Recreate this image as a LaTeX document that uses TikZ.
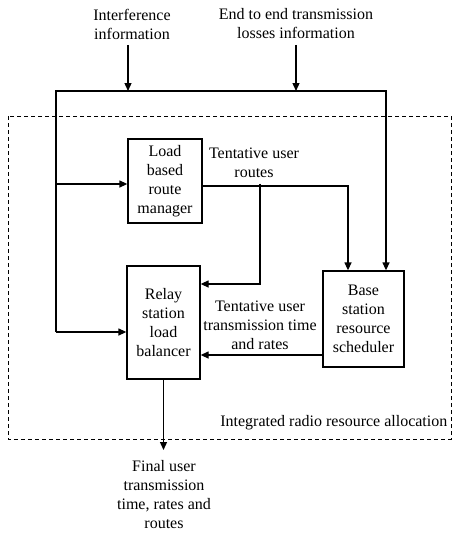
\documentclass[tikz,border=0pt]{standalone}
\usepackage{fontspec}
\setmainfont{Liberation Serif}
\usetikzlibrary{arrows.meta}
\begin{document}
\begin{tikzpicture}[x=1pt,y=-1pt,
  font=\fontsize{16}{19}\selectfont,
  line width=1.3pt,
  >={Triangle[length=8pt,width=7pt]},
  box/.style={draw, align=center, inner sep=0pt},
  lbl/.style={align=center, inner sep=0pt},
  region/.style={draw, line width=0.8pt, dash pattern=on 4pt off 3pt}]
\useasboundingbox (0,0) rectangle (452,533);
\fill[white] (0,0) rectangle (452,533);
% dashed region
\draw[region] (8,116) rectangle (451,439);
% labels
\node[lbl] (interf) at (132,24) {Interference\\information};
\node[lbl] (e2e) at (296,24) {End to end transmission\\losses information};
\node[lbl] (tur) at (254,163) {Tentative user\\routes};
\node[lbl] (tut) at (260,325) {Tentative user\\transmission time\\and rates};
\node[lbl, anchor=east] (irra) at (448,423) {Integrated radio resource allocation};
\node[lbl] (final) at (164,495) {Final user\\transmission\\time, rates and\\routes};
% boxes
\node[box, minimum width=74pt, minimum height=84pt] (load) at (165,181) {Load\\based\\route\\manager};
\node[box, minimum width=73pt, minimum height=113pt] (relay) at (163.5,322.5) {Relay\\station\\load\\balancer};
\node[box, minimum width=81pt, minimum height=96pt] (base) at (363.5,319) {Base\\station\\resource\\scheduler};
% coordinates
\coordinate (busL) at (56,91);
\coordinate (busR) at (386,91);
\coordinate (ia) at (128,91);
\coordinate (ea) at (296,91);
\coordinate (lin) at (56,184);
\coordinate (lb) at (56,332);
\coordinate (lo) at (202,186);
\coordinate (bin) at (348,186);
\coordinate (jt) at (260,183.5);
\coordinate (jr) at (260,284);
\coordinate (br) at (323,355);
\coordinate (out) at (164,450);
% connectors
\draw[->, shorten <=5pt] (interf.south -| ia) -- (ia);
\draw[->, shorten <=5pt] (e2e.south -| ea) -- (ea);
\draw[->] (lb) -- (busL) -- (busR) -- (busR |- base.north);
\draw[->] (lin) -- (lin -| load.west);
\draw[->] (lb) -- (lb -| relay.west);
\draw[->] (load.east |- lo) -- (bin) -- (bin |- base.north);
\draw[->] (jt) -- (jr) -- (jr -| relay.east);
\draw[->] (base.west |- br) -- (relay.east |- br);
\draw[->] (relay.south) -- (relay.south |- out);
\end{tikzpicture}
\end{document}
